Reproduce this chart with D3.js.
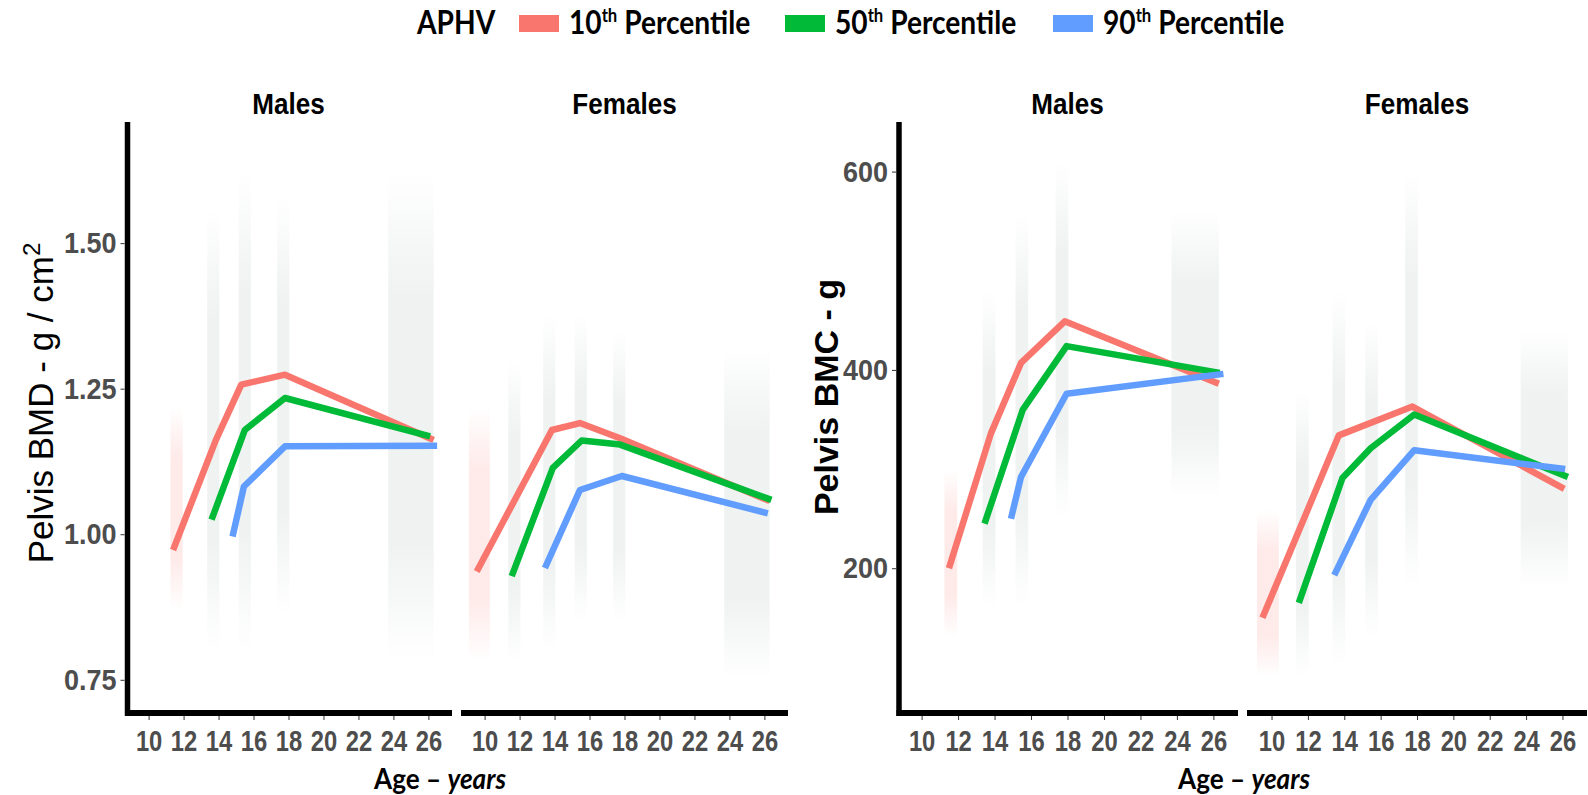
<!DOCTYPE html>
<html>
<head>
<meta charset="utf-8">
<script src="https://cdn.jsdelivr.net/npm/d3@7"></script>
<style>
  body { margin: 0; background: #fff; }
  svg { display: block; }
</style>
</head>
<body>
<div id="chart"></div>
<script>
// values: [age, value]
const ageTicks = [10, 12, 14, 16, 18, 20, 22, 24, 26];
const bmdTicks = [0.75, 1.00, 1.25, 1.50];
const bmcTicks = [200, 400, 600];
const percentiles = ["10th", "50th", "90th"];
const facetNames = ["Males", "Females"];

const bmdMaleP10 = [[11.4, 0.973], [13.85, 1.162], [15.3, 1.257], [17.8, 1.274], [26.3, 1.162]];
const bmdMaleP50 = [[13.6, 1.025], [15.5, 1.179], [17.8, 1.234], [26.1, 1.168]];
const bmdMaleP90 = [[14.8, 0.996], [15.45, 1.082], [17.8, 1.151], [26.5, 1.152]];

const bmdFemaleP10 = [[9.55, 0.936], [13.85, 1.179], [15.45, 1.191], [17.75, 1.165], [26.3, 1.057]];
const bmdFemaleP50 = [[11.55, 0.928], [13.9, 1.114], [15.55, 1.161], [17.75, 1.154], [26.4, 1.059]];
const bmdFemaleP90 = [[13.45, 0.942], [15.45, 1.076], [17.85, 1.100], [26.2, 1.036]];

const bmcMaleP10 = [[11.5, 200], [13.8, 336], [15.45, 407], [17.85, 449], [26.3, 386]];
const bmcMaleP50 = [[13.45, 245], [15.55, 360], [17.95, 424], [26.35, 397]];
const bmcMaleP90 = [[14.9, 250], [15.45, 292], [17.95, 376], [26.55, 396]];

const bmcFemaleP10 = [[9.5, 150], [13.7, 334], [17.75, 363], [26.1, 280]];
const bmcFemaleP50 = [[11.5, 165], [13.9, 291], [15.45, 321], [17.85, 355], [26.3, 292]];
const bmcFemaleP90 = [[13.45, 193], [15.45, 269], [17.85, 319], [26.15, 300]];

// faint point clouds: [age centre, half spread in years, low, high, colour key]
const bmdMaleClouds = [[11.6, 0.35, 0.87, 1.22, "r"], [13.7, 0.35, 0.80, 1.56, "m"], [15.5, 0.35, 0.80, 1.62, "m"],
                       [17.7, 0.35, 0.86, 1.58, "m"], [25.0, 1.3, 0.78, 1.62, "m"]];
const bmdFemaleClouds = [[9.7, 0.6, 0.78, 1.22, "r"], [11.7, 0.35, 0.78, 1.30, "m"], [13.7, 0.35, 0.80, 1.38, "m"],
                         [15.5, 0.35, 0.85, 1.38, "m"], [17.7, 0.35, 0.85, 1.35, "m"], [25.0, 1.3, 0.75, 1.32, "m"]];
const bmcMaleClouds = [[11.6, 0.35, 130, 300, "r"], [13.7, 0.35, 160, 480, "m"], [15.5, 0.35, 160, 560, "m"],
                       [17.7, 0.35, 250, 610, "m"], [25.0, 1.3, 270, 560, "m"]];
const bmcFemaleClouds = [[9.8, 0.6, 90, 260, "r"], [11.7, 0.35, 90, 380, "m"], [13.7, 0.35, 100, 480, "m"],
                         [15.5, 0.35, 130, 450, "m"], [17.7, 0.35, 180, 600, "m"], [25.0, 1.3, 180, 440, "m"]];

const colors = {"10th": "#F8766D", "50th": "#00BA38", "90th": "#619CFF"};
const cloudColors = {r: "#F8766D", g: "#00BA38", b: "#619CFF", m: "#93ab9f"};

const width = 1588, height = 795;
const yTop = 122, yBot = 713;
const xDomain = [8.65, 27.35];
const tickGrey = "#4D4D4D";
const arial = "'Liberation Sans', Arial, sans-serif";
const calibri = "Lato, 'Open Sans', sans-serif";

const svg = d3.select('#chart').append('svg')
    .attr('width', width)
    .attr('height', height);

// text squeezed a little sideways, like the original figure
function label(parent, x, y, sx, font, anchor) {
    return parent.append('text')
        .attr('transform', `translate(${x},${y}) scale(${sx},1)`)
        .attr('text-anchor', anchor || 'start')
        .style('font', font);
}

// gradients for the clouds
const defs = svg.append('defs');
Object.entries(cloudColors).forEach(([k, c]) => {
    const g = defs.append('linearGradient').attr('id', 'cloud-' + k)
        .attr('x1', 0).attr('y1', 0).attr('x2', 0).attr('y2', 1);
    [[0, 0], [0.25, 0.15], [0.75, 0.15], [1, 0]].forEach(([o, a]) =>
        g.append('stop').attr('offset', o).attr('stop-color', c).attr('stop-opacity', a));
});

const blocks = [
    {yDomain: [0.693, 1.708], ticks: bmdTicks, fmt: d3.format('.2f'), axisX: 127.5, titleX: 440,
     facets: [{x0: 125, x1: 452, lines: [bmdMaleP10, bmdMaleP50, bmdMaleP90], clouds: bmdMaleClouds},
              {x0: 461, x1: 788, lines: [bmdFemaleP10, bmdFemaleP50, bmdFemaleP90], clouds: bmdFemaleClouds}]},
    {yDomain: [54, 650], ticks: bmcTicks, fmt: d3.format('d'), axisX: 899, titleX: 1244,
     facets: [{x0: 897, x1: 1238, lines: [bmcMaleP10, bmcMaleP50, bmcMaleP90], clouds: bmcMaleClouds},
              {x0: 1247, x1: 1587, lines: [bmcFemaleP10, bmcFemaleP50, bmcFemaleP90], clouds: bmcFemaleClouds}]}
];

blocks.forEach(b => {
    const y = d3.scaleLinear().domain(b.yDomain).range([yBot, yTop]);

    b.facets.forEach((f, i) => {
        const x = d3.scaleLinear().domain(xDomain).range([f.x0, f.x1]);
        const g = svg.append('g');

        g.selectAll('rect.cloud')
            .data(f.clouds)
            .join('rect')
            .attr('class', 'cloud')
            .attr('x', d => x(d[0] - d[1]))
            .attr('width', d => x(d[0] + d[1]) - x(d[0] - d[1]))
            .attr('y', d => y(d[3]))
            .attr('height', d => y(d[2]) - y(d[3]))
            .attr('rx', 6)
            .attr('fill', d => `url(#cloud-${d[4]})`);

        const line = d3.line().x(d => x(d[0])).y(d => y(d[1]));
        g.selectAll('path.pct')
            .data(f.lines)
            .join('path')
            .attr('class', 'pct')
            .attr('d', line)
            .attr('fill', 'none')
            .attr('stroke', (d, j) => colors[percentiles[j]])
            .attr('stroke-width', 6.5)
            .attr('stroke-linejoin', 'round');

        // x axis
        const ax = g.append('g')
            .attr('transform', `translate(0, ${yBot + 3})`)
            .call(d3.axisBottom(x).tickValues(ageTicks).tickSize(4).tickPadding(10));
        ax.select('.domain').remove();
        ax.selectAll('line').attr('stroke', '#333');
        ax.selectAll('text')
            .attr('transform', 'scale(0.82,1)')
            .attr('fill', tickGrey)
            .style('font', `bold 29px ${arial}`);

        g.append('line')
            .attr('x1', i === 0 ? b.axisX - 2.5 : f.x0).attr('x2', f.x1)
            .attr('y1', yBot).attr('y2', yBot)
            .attr('stroke', '#000').attr('stroke-width', 6);

        label(g, (f.x0 + f.x1) / 2, 114, 0.9, `bold 29px ${arial}`, 'middle')
            .text(facetNames[i]);
    });

    // y axis
    const ay = svg.append('g')
        .attr('transform', `translate(${b.axisX - 3}, 0)`)
        .call(d3.axisLeft(y).tickValues(b.ticks).tickFormat(b.fmt).tickSize(4).tickPadding(5));
    ay.select('.domain').remove();
    ay.selectAll('line').attr('stroke', '#333');
    ay.selectAll('text')
        .attr('transform', 'scale(0.9,1)')
        .attr('fill', tickGrey)
        .style('font', `bold 30px ${arial}`);

    svg.append('line')
        .attr('x1', b.axisX).attr('x2', b.axisX)
        .attr('y1', yTop).attr('y2', yBot + 3)
        .attr('stroke', '#000').attr('stroke-width', 5.5);

    // x title
    const xt = label(svg, b.titleX, 789, 0.9, `bold 29px ${calibri}`, 'middle');
    xt.append('tspan').text('Age \u2013 ');
    xt.append('tspan').attr('font-style', 'italic').text('years');
});

// y titles
const yt1 = svg.append('text')
    .attr('transform', 'translate(53, 403) rotate(-90)')
    .attr('text-anchor', 'middle')
    .style('font', `35px ${arial}`);
yt1.append('tspan').text('Pelvis BMD - g / cm');
yt1.append('tspan').attr('dy', -13).attr('font-size', '24px').text('2');

svg.append('text')
    .attr('transform', 'translate(838, 397) rotate(-90)')
    .attr('text-anchor', 'middle')
    .style('font', `bold 34px ${arial}`)
    .text('Pelvis BMC - g');

// legend
const leg = svg.append('g');
const legFont = `bold 32px ${calibri}`;
label(leg, 417, 34, 0.88, legFont).text('APHV');
const legX = [519, 785, 1053];
percentiles.forEach((p, i) => {
    leg.append('rect')
        .attr('x', legX[i]).attr('y', 15)
        .attr('width', 40).attr('height', 17)
        .attr('fill', colors[p]);
    const t = label(leg, legX[i] + 50, 34, 0.88, legFont);
    t.append('tspan').text(p.slice(0, 2));
    t.append('tspan').attr('dy', -12).attr('font-size', '19px').text('th');
    t.append('tspan').attr('dy', 12).text(' Percentile');
});
</script>
</body>
</html>
